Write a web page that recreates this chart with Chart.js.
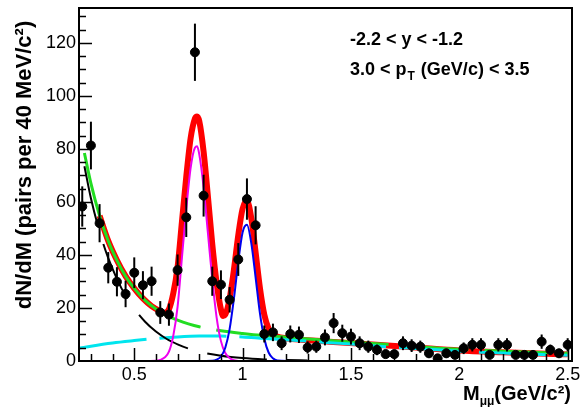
<!DOCTYPE html>
<html>
<head>
<meta charset="utf-8">
<script src="https://cdn.jsdelivr.net/npm/chart.js@4.4.1/dist/chart.umd.min.js"></script>
<style>
  html, body { margin: 0; padding: 0; background: #fff; }
  #contenedor { position: relative; width: 580px; height: 407px; }
</style>
</head>
<body>
<div id="contenedor"><canvas id="grafico"></canvas></div>
<script>
// Datos: centros de bin (GeV/c2), cuentas y errores
const masa = [0.26, 0.30, 0.34, 0.38, 0.42, 0.46, 0.50, 0.54, 0.58, 0.62, 0.66, 0.70, 0.74, 0.78,
  0.82, 0.86, 0.90, 0.94, 0.98, 1.02, 1.06, 1.10, 1.14, 1.18, 1.22, 1.26, 1.30, 1.34, 1.38, 1.42,
  1.46, 1.50, 1.54, 1.58, 1.62, 1.66, 1.70, 1.74, 1.78, 1.82, 1.86, 1.90, 1.94, 1.98, 2.02, 2.06,
  2.10, 2.14, 2.18, 2.22, 2.26, 2.30, 2.34, 2.38, 2.42, 2.46, 2.50];
const pares = [58.3, 81.3, 52, 35.2, 29.9, 25.3, 33.3, 28.6, 30.1, 18.3, 17.5, 34.3, 54.2, 116.5,
  62.4, 30.1, 28.8, 23.1, 38.3, 61.1, 51.2, 10.2, 10.8, 6.7, 10.2, 9.9, 5.1, 5.4, 8.9, 14.3,
  10.5, 9.2, 6.7, 5.4, 4.2, 2.6, 2.6, 6.7, 5.8, 5.4, 2.9, 1.0, 2.9, 2.3, 4.8, 6.1,
  6.1, 2.3, 6.1, 6.1, 2.3, 2.3, 2.3, 7.3, 4.2, 2.9, 6.1];
const errores = [7.6, 9.0, 7.2, 5.9, 5.5, 5.0, 5.8, 5.3, 5.5, 4.3, 4.2, 5.9, 7.4, 10.8,
  7.9, 5.5, 5.4, 4.8, 6.2, 7.8, 7.2, 3.2, 3.3, 2.6, 3.2, 3.1, 2.3, 2.3, 3.0, 3.8,
  3.2, 3.0, 2.6, 2.3, 2.0, 1.6, 1.6, 2.6, 2.4, 2.3, 1.7, 1.0, 1.7, 1.5, 2.2, 2.5,
  2.5, 1.5, 2.5, 2.5, 1.5, 1.5, 1.5, 2.7, 2.0, 1.7, 2.5];

// Ajuste total (rojo)
const totalX = [0.34, 0.38, 0.42, 0.46, 0.50, 0.54, 0.58, 0.62, 0.64, 0.66, 0.68, 0.70, 0.72, 0.74,
  0.76, 0.78, 0.79, 0.80, 0.82, 0.84, 0.86, 0.88, 0.90, 0.91, 0.92, 0.94, 0.96, 0.98, 1.00, 1.02,
  1.04, 1.06, 1.08, 1.10, 1.12, 1.14, 1.16, 1.20, 1.40, 1.60, 1.80, 2.00, 2.20, 2.40, 2.50];
const totalY = [54.8, 45.3, 38, 32, 27.4, 23.6, 20.7, 18.8, 18.2, 19.5, 25.5, 35.5, 52.5, 69.5,
  84, 91.5, 92.3, 90.5, 79, 62, 44, 29.5, 19.5, 17.0, 17.5, 23.5, 34.5, 47.5, 57.5, 60.5,
  54, 41, 27.5, 17.5, 12.2, 10, 9.2, 8.6, 7.3, 6.2, 5.1, 4.0, 3.3, 2.7, 2.5];

// Fondo total (verde)
const fondoX = [0.27, 0.30, 0.34, 0.38, 0.42, 0.46, 0.50, 0.55, 0.60, 0.65, 0.70, 0.75, 0.80, 0.90,
  1.00, 1.10, 1.20, 1.40, 1.60, 1.80, 2.00, 2.20, 2.40, 2.50];
const fondoY = [78.5, 67, 54.8, 45.3, 38, 32, 27.4, 22.9, 19.6, 17.1, 15.4, 14.0, 12.9, 11.4,
  10.4, 9.6, 9.0, 7.7, 6.6, 5.5, 4.4, 3.7, 3.1, 2.9];

// Componente exponencial (negro)
const expoX = [0.27, 0.30, 0.34, 0.38, 0.42, 0.46, 0.50, 0.55, 0.60, 0.65, 0.70, 0.75, 0.80, 0.90,
  1.00, 1.10, 1.20, 1.30];
const expoY = [73.5, 61.4, 48.8, 38.8, 31, 24.6, 19.7, 14.8, 11.1, 8.3, 6.3, 4.7, 3.5, 2.0,
  1.1, 0.6, 0.35, 0.2];

// Componente continua (cian)
const contX = [0.25, 0.30, 0.40, 0.50, 0.60, 0.70, 0.80, 0.90, 1.00, 1.10, 1.20, 1.30, 1.40, 1.50,
  1.60, 1.70, 1.80, 1.90, 2.00, 2.10, 2.20, 2.30, 2.40, 2.50];
const contY = [4.9, 5.6, 6.8, 7.7, 8.5, 9.1, 9.4, 9.4, 9.1, 8.5, 8.0, 7.5, 6.9, 6.4,
  5.8, 5.2, 4.7, 4.2, 3.7, 3.3, 3.0, 2.7, 2.4, 2.2];

// rho + omega (magenta)
const rhoX = [0.52, 0.60, 0.62, 0.64, 0.66, 0.68, 0.70, 0.72, 0.74, 0.76, 0.78, 0.79, 0.80, 0.82,
  0.84, 0.86, 0.88, 0.90, 0.92, 0.94, 0.96, 0.98];
const rhoY = [0, 0.1, 0.4, 1.3, 3.5, 9.5, 20.5, 39, 57.3, 72.8, 80.5, 81, 78, 65.6,
  48.2, 30.9, 16.5, 7.5, 3.0, 1.1, 0.3, 0];

// phi (azul)
const phiX = [0.78, 0.86, 0.88, 0.90, 0.92, 0.94, 0.96, 0.98, 1.00, 1.02, 1.04, 1.06, 1.08, 1.10,
  1.12, 1.14, 1.16, 1.22];
const phiY = [0, 0.1, 0.5, 1.7, 5.0, 12.0, 23.6, 37.5, 48.6, 51.4, 44.5, 31.5, 18.0, 8.5,
  3.2, 1.0, 0.2, 0];

// Etiquetas de ejes
const ticksX = [0.5, 1, 1.5, 2, 2.5];
const ticksY = [0, 20, 40, 60, 80, 100, 120];

const FUENTE = '"Liberation Sans", Arial, Helvetica, sans-serif';

function puntos(xs, ys) {
  return xs.map((v, i) => ({ x: v, y: ys[i] }));
}

function curva(xs, ys, color, ancho, orden, guiones) {
  return {
    type: 'line',
    data: puntos(xs, ys),
    borderColor: color,
    backgroundColor: color,
    borderWidth: ancho,
    borderDash: guiones || [],
    pointRadius: 0,
    showLine: true,
    fill: false,
    cubicInterpolationMode: 'monotone',
    order: orden
  };
}

// Marco, marcas internas, barras de error y textos al estilo ROOT
const estiloRoot = {
  id: 'estiloRoot',
  afterDatasetsDraw(chart) {
    const { ctx, chartArea: a, scales: { x, y } } = chart;
    ctx.save();
    ctx.beginPath();
    ctx.rect(a.left, a.top, a.right - a.left, a.bottom - a.top);
    ctx.clip();
    ctx.strokeStyle = '#000';
    ctx.lineWidth = 2;
    masa.forEach((m, i) => {
      const px = x.getPixelForValue(m);
      ctx.beginPath();
      ctx.moveTo(px, y.getPixelForValue(pares[i] - errores[i]));
      ctx.lineTo(px, y.getPixelForValue(pares[i] + errores[i]));
      ctx.stroke();
    });
    ctx.restore();
  },
  afterDraw(chart) {
    const { ctx, chartArea: a, scales: { x, y } } = chart;
    ctx.save();
    ctx.strokeStyle = '#000';
    ctx.lineWidth = 2;
    ctx.strokeRect(a.left, a.top, a.right - a.left, a.bottom - a.top);

    // marcas del eje x (mayores 0.5, menores 0.1)
    ctx.lineWidth = 1.5;
    for (let k = 3; k <= 25; k++) {
      const v = k / 10;
      const px = Math.round(x.getPixelForValue(v)) + 0.5;
      const largo = (k % 5 === 0) ? 13 : 7;
      ctx.beginPath();
      ctx.moveTo(px, a.bottom);
      ctx.lineTo(px, a.bottom - largo);
      ctx.stroke();
    }
    // marcas del eje y (mayores 20, menores 5)
    for (let v = 5; v <= 130; v += 5) {
      const py = Math.round(y.getPixelForValue(v)) + 0.5;
      const largo = (v % 20 === 0) ? 13 : 7;
      ctx.beginPath();
      ctx.moveTo(a.left, py);
      ctx.lineTo(a.left + largo, py);
      ctx.stroke();
    }

    ctx.fillStyle = '#000';
    // título eje y
    ctx.save();
    ctx.translate(25, 165);
    ctx.rotate(-Math.PI / 2);
    ctx.font = 'bold 22px ' + FUENTE;
    ctx.textAlign = 'center';
    ctx.textBaseline = 'middle';
    ctx.fillText('dN/dM (pairs per 40 MeV/c²)', 0, 0);
    ctx.restore();

    // título eje x con subíndice
    ctx.textBaseline = 'alphabetic';
    ctx.textAlign = 'left';
    const fGrande = 'bold 20px ' + FUENTE;
    const fSub = 'bold 12px ' + FUENTE;
    ctx.font = fGrande;
    const wM = ctx.measureText('M').width;
    const wResto = ctx.measureText('(GeV/c²)').width;
    ctx.font = fSub;
    const wSub = ctx.measureText('μμ').width;
    let xi = 571 - (wM + wSub + wResto);
    ctx.font = fGrande;
    ctx.fillText('M', xi, 400);
    ctx.font = fSub;
    ctx.fillText('μμ', xi + wM, 405);
    ctx.font = fGrande;
    ctx.fillText('(GeV/c²)', xi + wM + wSub, 400);

    // rótulos de cortes
    ctx.font = 'bold 18px ' + FUENTE;
    ctx.fillText('-2.2 < y < -1.2', 350, 45);
    ctx.fillText('3.0 < p', 350, 75);
    const wp = ctx.measureText('3.0 < p').width;
    ctx.font = 'bold 12px ' + FUENTE;
    ctx.fillText('T', 350 + wp + 1, 80);
    const wT = ctx.measureText('T').width;
    ctx.font = 'bold 18px ' + FUENTE;
    ctx.fillText(' (GeV/c) < 3.5', 350 + wp + wT + 2, 75);
    ctx.restore();
  }
};

new Chart(document.getElementById('grafico').getContext('2d'), {
  type: 'scatter',
  data: {
    datasets: [
      {
        data: puntos(masa, pares),
        backgroundColor: '#000',
        borderColor: '#000',
        pointRadius: 4.5,
        pointHoverRadius: 4.5,
        showLine: false,
        order: 0
      },
      curva(phiX, phiY, '#0000ee', 2, 1),
      curva(rhoX, rhoY, '#ee00ee', 2, 2),
      curva(expoX, expoY, '#000000', 2, 3, [60, 20]),
      curva(contX, contY, '#00e5ee', 3, 4, [67, 13]),
      curva(fondoX, fondoY, '#22dd22', 3, 5, [224, 16, 173, 16, 64, 16, 64, 16, 64, 16]),
      curva(totalX, totalY, '#ff0000', 6, 6)
    ]
  },
  options: {
    responsive: true,
    maintainAspectRatio: false,
    animation: false,
    devicePixelRatio: 1,
    layout: { padding: { left: 0, right: 8, top: 8, bottom: 0 } },
    plugins: { legend: { display: false }, tooltip: { enabled: false } },
    scales: {
      x: {
        type: 'linear',
        min: 0.245,
        max: 2.52,
        grid: { display: false, drawTicks: false },
        border: { display: false },
        afterBuildTicks: s => { s.ticks = ticksX.map(v => ({ value: v })); },
        afterFit: s => { s.height = 46; s.paddingLeft = 0; s.paddingRight = 0; },
        ticks: {
          padding: 3,
          maxRotation: 0,
          autoSkip: false,
          color: '#000',
          font: { family: FUENTE, size: 18 },
          callback: v => String(v)
        }
      },
      y: {
        type: 'linear',
        min: 0,
        max: 133.2,
        grid: { display: false, drawTicks: false },
        border: { display: false },
        afterBuildTicks: s => { s.ticks = ticksY.map(v => ({ value: v })); },
        afterFit: s => { s.width = 79; s.paddingTop = 0; s.paddingBottom = 0; },
        ticks: {
          padding: 3,
          autoSkip: false,
          color: '#000',
          font: { family: FUENTE, size: 18 },
          callback: v => String(v)
        }
      }
    }
  },
  plugins: [estiloRoot]
});
</script>
</body>
</html>
